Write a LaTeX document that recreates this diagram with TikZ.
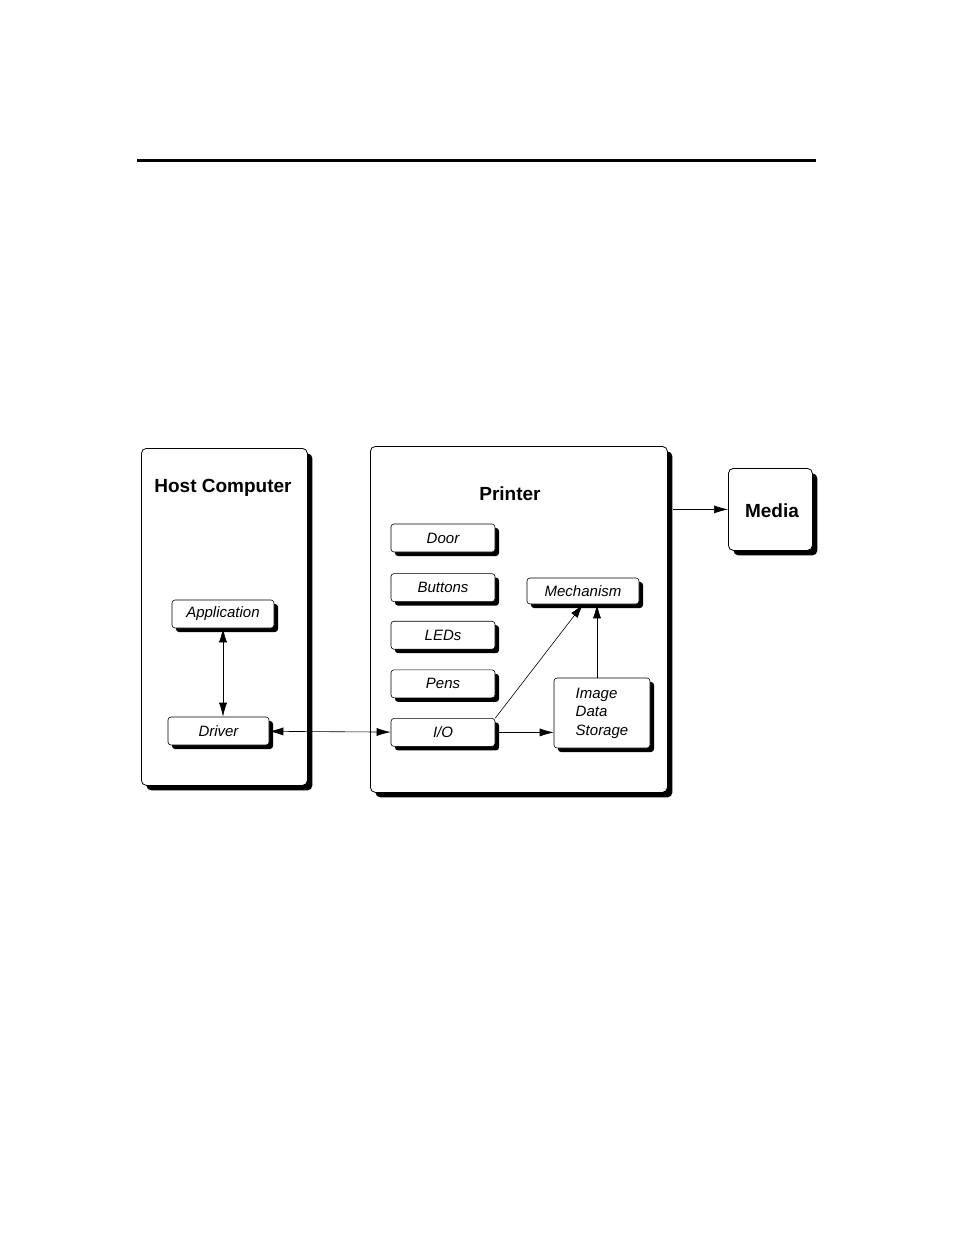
\documentclass[tikz,border=0pt]{standalone}
\usepackage{fontspec}
\setmainfont{Liberation Sans}
\usetikzlibrary{arrows.meta,positioning,shadows}

\begin{document}
\begin{tikzpicture}[
    x=1pt, y=-1pt,
    node distance=20pt and 30pt,
    shadowed/.style={drop shadow={shadow xshift=5pt, shadow yshift=-5pt, opacity=1, fill=black}},
    bigbox/.style={draw, thick, rounded corners=5pt, fill=white, shadowed, anchor=north west},
    part/.style={draw, semithick, rounded corners=3pt, fill=white, minimum width=104pt, minimum height=28pt,
        inner sep=0pt, font=\fontsize{15}{18}\selectfont\itshape,
        drop shadow={shadow xshift=4pt, shadow yshift=-4pt, opacity=1, fill=black}},
    title/.style={font=\fontsize{19}{22}\selectfont\bfseries},
    arr/.style={-{Latex[length=14pt,width=8pt]}, semithick},
    dblarr/.style={{Latex[length=14pt,width=8pt]}-{Latex[length=14pt,width=8pt]}, semithick},
]
    \useasboundingbox (0,0) rectangle (954,1235);

    % top rule
    \draw[line width=3pt] (137,160) -- (816,160);

    % Host computer
    \node[bigbox, minimum width=166pt, minimum height=337pt] (host) at (141,448) {};
    \node[title] (hosttitle) at (223,488) {Host Computer};
    \node[part, minimum width=102pt] (app) at (223,614) {Application};
    \node[part, minimum width=101pt] (driver) at (218.5,731) {Driver};

    % Printer
    \node[bigbox, minimum width=297pt, minimum height=346pt] (printer) at (370,446) {};
    \node[title] (printertitle) at (510,494) {Printer};
    \node[part] (door) at (443,538) {Door};
    \node[part, below=21pt of door] (buttons) {Buttons};
    \node[part, below=19pt of buttons] (leds) {LEDs};
    \node[part, below=20pt of leds] (pens) {Pens};
    \node[part, below=20pt of pens] (io) {I/O};
    \node[part, minimum width=112pt, minimum height=26pt] (mech) at (583,591) {Mechanism};
    \node[part, minimum width=96pt, minimum height=70pt, align=left,
        font=\fontsize{15}{18.5}\selectfont\itshape] (store) at (602,713) {Image\\Data\\Storage};

    % Media
    \node[bigbox, minimum width=84pt, minimum height=82pt] (media) at (728,468) {};
    \node[title] (mediatitle) at (772,511) {Media};

    % connections
    \draw[dblarr] (app.south) -- (app.south |- driver.north);
    \draw[dblarr] (driver) -- (io);
    \draw[arr] (io) -- (store.west |- io);
    \draw[arr] (io.north east) -- (mech.south);
    \draw[arr] (store.north -| mech.south) ++(14,0) coordinate (st) -- (st |- mech.south);
    \draw[arr] (printer.east |- media.west) ++(5,0) coordinate (pm) -- (pm -| media.west);
\end{tikzpicture}
\end{document}
